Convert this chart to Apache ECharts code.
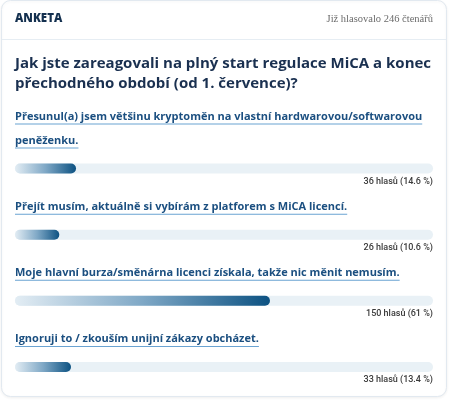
<!DOCTYPE html>
<html>
<head>
<meta charset="utf-8">
<script src="https://cdn.jsdelivr.net/npm/echarts@6/dist/echarts.min.js"></script>
<style>
html,body{margin:0;padding:0;background:#fff;}
#chart{width:450px;height:400px;}
</style>
</head>
<body>
<div id="chart"></div>
<script>
// ---- data ----
const headerTitle = 'ANKETA';
const headerInfo = 'Již hlasovalo 246 čtenářů';
const question = 'Jak jste zareagovali na plný start regulace MiCA a konec přechodného období (od 1. července)?';
const answers = [
  'Přesunul(a) jsem většinu kryptoměn na vlastní hardwarovou/softwarovou peněženku.',
  'Přejít musím, aktuálně si vybírám z platforem s MiCA licencí.',
  'Moje hlavní burza/směnárna licenci získala, takže nic měnit nemusím.',
  'Ignoruji to / zkouším unijní zákazy obcházet.'
];
const votes = [36, 26, 150, 33];
const percents = [14.6, 10.6, 61, 13.4];

// ---- helpers ----
const FONT_Q = '700 15px "Open Sans"';
const FONT_A = '700 11px "Open Sans"';
const measureCtx = document.createElement('canvas').getContext('2d');
function textWidth(t, font) { measureCtx.font = font; return measureCtx.measureText(t).width; }
function wrap(t, font, maxW) {
  const words = t.split(' ');
  const lines = [];
  let cur = '';
  words.forEach(w => {
    const test = cur ? cur + ' ' + w : w;
    if (textWidth(test, font) > maxW && cur) { lines.push(cur); cur = w; }
    else cur = test;
  });
  if (cur) lines.push(cur);
  return lines;
}

const chart = echarts.init(document.getElementById('chart'), null, {renderer: 'canvas'});
const GRID_LEFT = 15, GRID_RIGHT = 17;
const innerW = 450 - GRID_LEFT - GRID_RIGHT;

const option = {
  backgroundColor: '#fff',
  animation: false,
  graphic: [
    {type: 'rect', shape: {x: 1.5, y: 0.5, width: 445, height: 396, r: 9},
      style: {fill: '#fff', stroke: '#e2e9f0', lineWidth: 1, shadowBlur: 3, shadowColor: 'rgba(0,0,0,0.06)', shadowOffsetY: 1}, z: -10},
    {type: 'line', shape: {x1: 2, y1: 39.5, x2: 446, y2: 39.5}, style: {stroke: '#e6edf3', lineWidth: 1}, z: -9}
  ],
  title: [
    {text: headerTitle, left: 15, top: 9, padding: 0,
      textStyle: {fontFamily: '"Open Sans"', fontWeight: 800, fontSize: 11.5, color: '#14304f', lineHeight: 20}},
    {text: headerInfo, right: 17, top: 9, padding: 0,
      textStyle: {fontFamily: '"Liberation Serif"', fontWeight: 400, fontSize: 10.5, color: '#6b6b6b', lineHeight: 20}},
    {text: wrap(question, FONT_Q, innerW).join('\n'), left: 15, top: 54, padding: 0,
      textStyle: {fontFamily: '"Open Sans"', fontWeight: 700, fontSize: 15, color: '#1a3050', lineHeight: 20}}
  ],
  grid: {left: GRID_LEFT, right: GRID_RIGHT, top: 135.5, height: 268, containLabel: false},
  xAxis: {type: 'value', min: 0, max: 100, show: false},
  yAxis: {type: 'category', data: answers, inverse: true, show: false},
  series: [
    {
      type: 'bar', name: 'track', silent: true,
      data: answers.map(() => 100),
      barWidth: 10, barGap: '-100%',
      itemStyle: {color: '#e9f1f6', borderRadius: 5},
      label: {
        show: true, position: ['100%', '100%'], offset: [0, 8],
        align: 'right', verticalAlign: 'middle',
        fontFamily: 'Roboto', fontWeight: 500, fontSize: 9, color: '#3a3a3a',
        formatter: p => votes[p.dataIndex] + ' hlasů (' + percents[p.dataIndex] + ' %)'
      },
      z: 2
    },
    {
      type: 'bar', name: 'votes', silent: true,
      data: percents,
      barWidth: 10, barGap: '-100%',
      itemStyle: {
        borderRadius: 5,
        color: new echarts.graphic.LinearGradient(0, 0, 1, 0, [
          {offset: 0, color: '#e3edf4'},
          {offset: 0.5, color: '#7fa8c6'},
          {offset: 1, color: '#0d5282'}
        ])
      },
      z: 3
    },
    {
      type: 'custom', name: 'answers', silent: true, clip: false,
      data: answers.map((a, i) => [0, i]),
      renderItem: function (params, api) {
        const idx = api.value(1);
        const pt = api.coord([0, idx]);
        const lines = wrap(answers[idx], FONT_A, innerW);
        const children = [];
        const n = lines.length;
        lines.forEach((ln, k) => {
          const cy = pt[1] - 28 - (n - 1 - k) * 24;
          const w = textWidth(ln, FONT_A);
          children.push({type: 'text', style: {text: ln, x: pt[0], y: cy, fill: '#1b4f80',
            font: FONT_A, verticalAlign: 'middle', align: 'left'}});
          children.push({type: 'rect', shape: {x: pt[0], y: cy + 7, width: w, height: 1},
            style: {fill: '#6aa3d2'}});
        });
        return {type: 'group', children: children};
      },
      z: 4
    }
  ]
};
chart.setOption(option);
</script>
</body>
</html>
